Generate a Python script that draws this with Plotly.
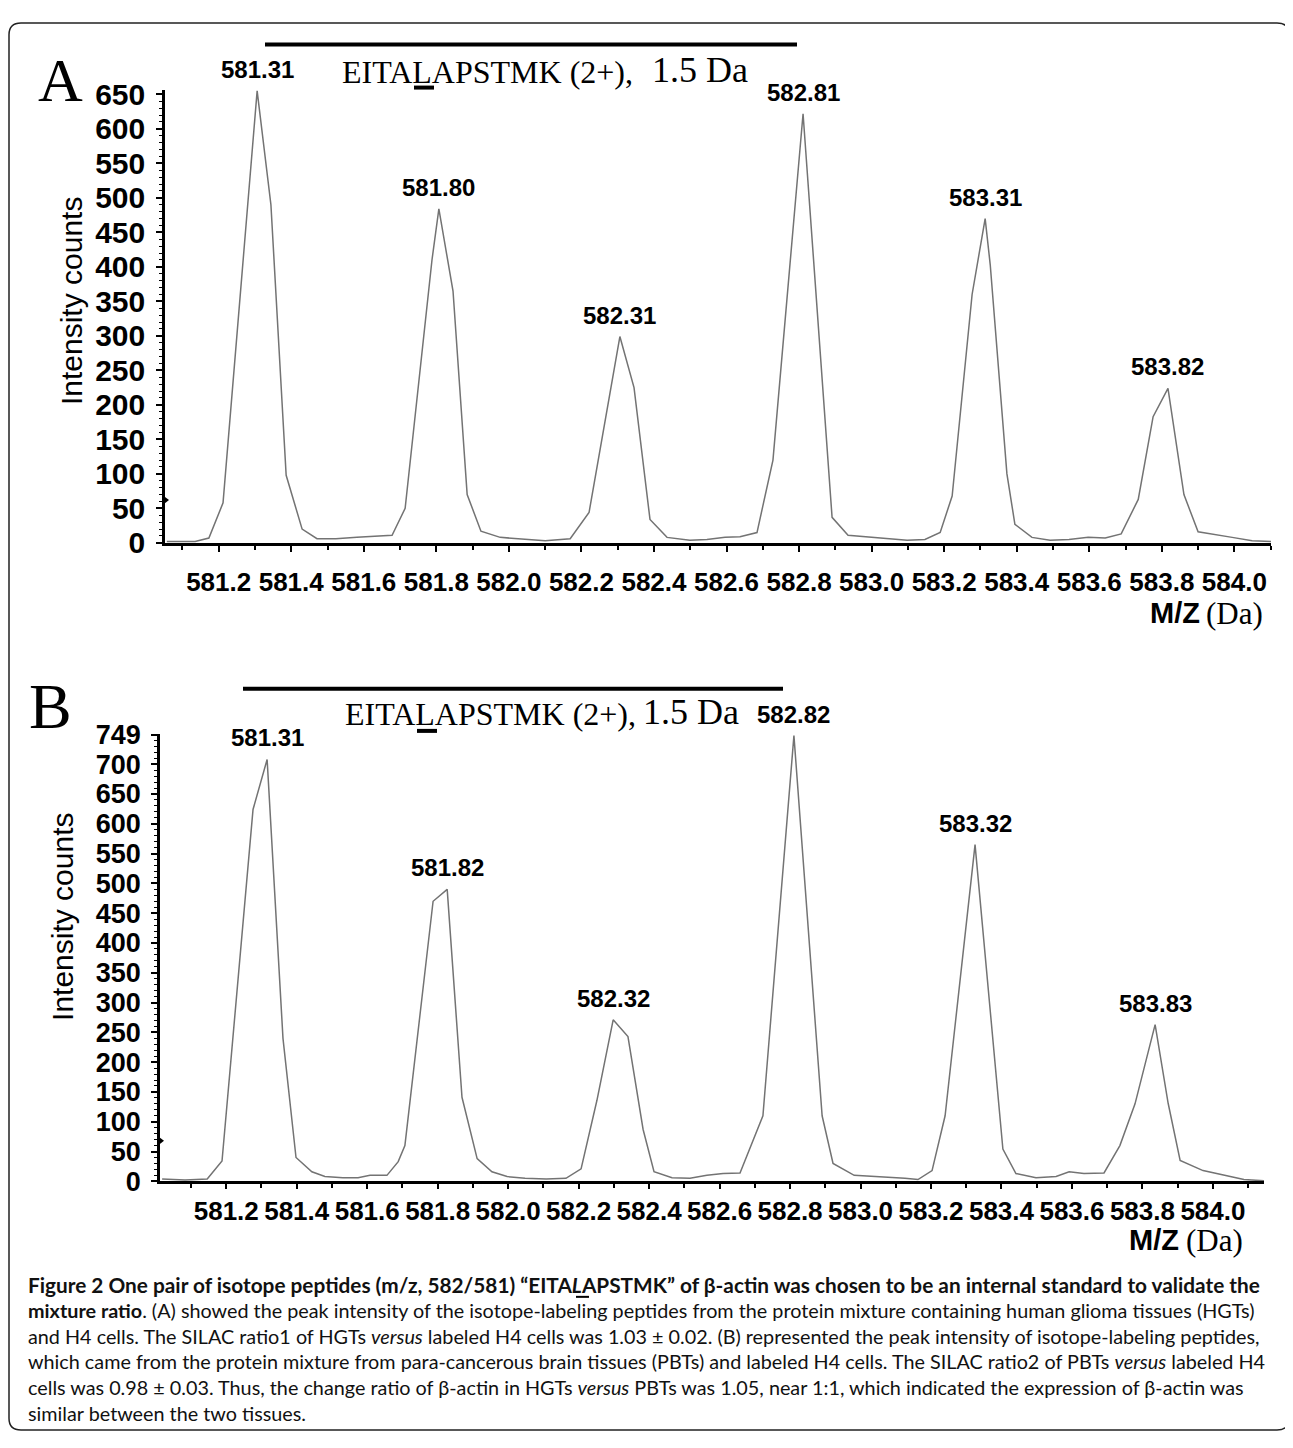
import plotly.graph_objects as go

# page is 1293x1448; the html body has an 8px default margin, so the figure is 8px smaller
PAGE_W, PAGE_H = 1293, 1448
OFF = 8
W, H = PAGE_W - OFF, PAGE_H - OFF

# ---------------- data ----------------
# Panel A: m/z and intensity vertices of the profile spectrum
mz_a = [581.057, 581.135, 581.173, 581.212, 581.306, 581.344, 581.386, 581.430, 581.471, 581.523,
        581.581, 581.631, 581.678, 581.714, 581.788, 581.807, 581.846, 581.885, 581.923, 581.976,
        582.033, 582.100, 582.169, 582.221, 582.306, 582.345, 582.389, 582.436, 582.499, 582.546,
        582.596, 582.637, 582.684, 582.728, 582.811, 582.891, 582.935, 582.987, 583.040, 583.098,
        583.147, 583.189, 583.222, 583.277, 583.313, 583.327, 583.373, 583.395, 583.442, 583.492,
        583.544, 583.597, 583.644, 583.688, 583.735, 583.776, 583.817, 583.861, 583.900, 583.952,
        583.994, 584.049, 584.101]
int_a = [2, 2, 7, 58, 655, 490, 98, 20, 6, 6,
         8, 10, 11, 50, 410, 484, 365, 70, 17, 8,
         6, 3, 6, 44, 299, 225, 34, 8, 4, 5,
         8, 9, 15, 120, 622, 37, 11, 9, 7, 4,
         5, 15, 68, 360, 470, 403, 100, 27, 8, 4,
         5, 8, 7, 13, 63, 183, 224, 70, 16, 11,
         8, 3, 2]
peaks_a = ["581.31", "581.80", "582.31", "582.81", "583.31", "583.82"]

# Panel B
mz_b = [581.018, 581.083, 581.146, 581.188, 581.276, 581.316, 581.361, 581.398, 581.443, 581.480,
        581.531, 581.574, 581.608, 581.656, 581.688, 581.707, 581.787, 581.827, 581.869, 581.912,
        581.954, 581.997, 582.048, 582.108, 582.164, 582.207, 582.252, 582.298, 582.340, 582.383,
        582.414, 582.465, 582.516, 582.564, 582.610, 582.658, 582.723, 582.811, 582.891, 582.922,
        582.982, 583.052, 583.126, 583.163, 583.203, 583.240, 583.325, 583.404, 583.441, 583.498,
        583.555, 583.592, 583.634, 583.691, 583.736, 583.779, 583.836, 583.873, 583.907, 583.972,
        584.014, 584.088, 584.145]
int_b = [4, 2, 4, 34, 624, 708, 240, 40, 16, 8,
         6, 6, 10, 10, 33, 60, 470, 490, 141, 38,
         16, 8, 5, 4, 5, 21, 136, 271, 243, 87,
         16, 6, 5, 10, 13, 14, 110, 748, 110, 30,
         10, 8, 5, 3, 18, 110, 565, 54, 13, 6,
         8, 16, 13, 14, 60, 130, 263, 131, 35, 18,
         13, 3, 1]
peaks_b = ["581.31", "581.82", "582.32", "582.82", "583.32", "583.83"]

yticks_a = list(range(0, 651, 50))
yticks_b = list(range(0, 701, 50)) + [749]
marker_level_a = 62
marker_level_b = 68

title_main = "EITALAPSTMK (2+),"
title_mass = "1.5 Da"

caption_lines = [
    "<b>Figure 2 One pair of isotope peptides (m/z, 582/581) \u201cEITA<i>L</i>APSTMK\u201d of \u03b2-actin was chosen to be an internal standard to validate the</b>",
    "<b>mixture ratio</b>. (A) showed the peak intensity of the isotope-labeling peptides from the protein mixture containing human glioma tissues (HGTs)",
    "and H4 cells. The SILAC ratio1 of HGTs <i>versus</i> labeled H4 cells was 1.03 \u00b1 0.02. (B) represented the peak intensity of isotope-labeling peptides,",
    "which came from the protein mixture from para-cancerous brain tissues (PBTs) and labeled H4 cells. The SILAC ratio2 of PBTs <i>versus</i> labeled H4",
    "cells was 0.98 \u00b1 0.03. Thus, the change ratio of \u03b2-actin in HGTs <i>versus</i> PBTs was 1.05, near 1:1, which indicated the expression of \u03b2-actin was",
    "similar between the two tissues.",
]


# ---------------- helpers (page pixels -> paper fractions) ----------------
def fx(p):
    return (p - OFF) / W


def fy(p):
    return 1 - (p - OFF) / H


SANS = "Liberation Sans, Arial, sans-serif"
SERIF = "Liberation Serif, Times New Roman, serif"
CAPTION_FONT = "Lato, Open Sans, sans-serif"
LINE_COLOR = "#737373"

fig = go.Figure()

fig.add_trace(go.Scatter(x=mz_a, y=int_a, mode="lines", xaxis="x", yaxis="y",
                         line=dict(color=LINE_COLOR, width=1.5), showlegend=False, hoverinfo="skip"))
fig.add_trace(go.Scatter(x=mz_b, y=int_b, mode="lines", xaxis="x2", yaxis="y2",
                         line=dict(color=LINE_COLOR, width=1.5), showlegend=False, hoverinfo="skip"))

range_a = [581.052, 584.101]
range_b = [581.012, 584.145]

# small arrow marks on the y axes
fig.add_trace(go.Scatter(x=[range_a[0]], y=[marker_level_a], mode="markers", xaxis="x", yaxis="y",
                         marker=dict(symbol="triangle-right", size=8, color="black"),
                         cliponaxis=False, showlegend=False, hoverinfo="skip"))
fig.add_trace(go.Scatter(x=[range_b[0]], y=[marker_level_b], mode="markers", xaxis="x2", yaxis="y2",
                         marker=dict(symbol="triangle-right", size=8, color="black"),
                         cliponaxis=False, showlegend=False, hoverinfo="skip"))


def xaxis_cfg(dom, rng, anchor, standoff, ticklen):
    return dict(domain=dom, range=rng, anchor=anchor, showline=True, linecolor="black", linewidth=2.5,
                ticks="outside", ticklen=ticklen, tickwidth=2, tickcolor="black",
                tickmode="linear", tick0=581.2, dtick=0.2, tickformat=".1f",
                tickfont=dict(family=SANS, size=26, color="black", weight="bold"),
                ticklabelstandoff=standoff,
                minor=dict(tick0=581.1, dtick=0.1, ticks="outside", ticklen=4, tickwidth=1.5,
                           tickcolor="black", showgrid=False),
                showgrid=False, zeroline=False, fixedrange=True)


def yaxis_cfg(dom, rng, anchor, vals, fsize):
    return dict(domain=dom, range=rng, anchor=anchor, showline=True, linecolor="black", linewidth=2.5,
                ticks="outside", ticklen=6, tickwidth=2, tickcolor="black",
                tickmode="array", tickvals=vals, ticktext=[str(v) for v in vals],
                tickfont=dict(family=SANS, size=fsize, color="black", weight="bold"),
                ticklabelstandoff=5,
                minor=dict(tick0=0, dtick=10, ticks="outside", ticklen=3, tickwidth=1,
                           tickcolor="black", showgrid=False),
                showgrid=False, zeroline=False, fixedrange=True)


fig.update_layout(
    width=W, height=H, margin=dict(l=0, r=0, t=0, b=0),
    paper_bgcolor="white", plot_bgcolor="white", showlegend=False,
    xaxis=xaxis_cfg([fx(165), fx(1271)], range_a, "y", 8, 6),
    yaxis=yaxis_cfg([fy(541), fy(78)], [0, 657], "x", yticks_a, 30),
    xaxis2=xaxis_cfg([fx(160), fx(1264)], range_b, "y2", 0, 5),
    yaxis2=yaxis_cfg([fy(1193), fy(736)], [0, 751], "x2", yticks_b, 27),
)

ann = []


def paper_text(text, px, py, size, family=SANS, xanchor="center", yanchor="middle", angle=0, color="black"):
    ann.append(dict(text=text, x=fx(px), y=fy(py), xref="paper", yref="paper", showarrow=False,
                    xanchor=xanchor, yanchor=yanchor, textangle=angle,
                    font=dict(family=family, size=size, color=color)))


# panel letters
paper_text("A", 60, 68, 62, SERIF)
paper_text("B", 50, 708, 64, SERIF)

# peptide titles
paper_text(title_main, 340, 60, 32, SERIF, xanchor="left")
paper_text(title_mass, 650, 58, 36, SERIF, xanchor="left")
paper_text(title_main, 343, 716, 32, SERIF, xanchor="left")
paper_text(title_mass, 641, 714, 36, SERIF, xanchor="left")

# y axis titles
paper_text("Intensity counts", 71, 294, 30, SANS, angle=-90)
paper_text("Intensity counts", 63, 923, 30, SANS, angle=-90)

# x axis titles
paper_text("<b>M/Z</b>", 1202, 613, 29, SANS, xanchor="right")
paper_text("(Da)", 1204, 613, 31, SERIF, xanchor="left")
paper_text("<b>M/Z</b>", 1181, 1253, 29, SANS, xanchor="right")
paper_text("(Da)", 1184, 1253, 31, SERIF, xanchor="left")


# peak labels placed at the local maximum of each isotope peak
def peak_labels(mz, inten, labels, xref, yref):
    for lab in labels:
        c = float(lab)
        idx = [i for i, m in enumerate(mz) if abs(m - c) < 0.08]
        best = max(idx, key=lambda i: inten[i])
        ann.append(dict(text="<b>%s</b>" % lab, x=mz[best], y=inten[best], xref=xref, yref=yref,
                        showarrow=False, xanchor="center", yanchor="bottom", yshift=6,
                        font=dict(family=SANS, size=24, color="black")))


peak_labels(mz_a, int_a, peaks_a, "x", "y")
peak_labels(mz_b, int_b, peaks_b, "x2", "y2")

# caption
cap_y = [1298, 1324, 1350.5, 1377, 1403.5, 1430]
cap_size = [20.8, 19.8, 19.8, 19.8, 19.8, 19.8]
for line, yy, sz in zip(caption_lines, cap_y, cap_size):
    paper_text(line, 26, yy, sz, CAPTION_FONT, xanchor="left", color="#111111")

fig.update_layout(annotations=ann)

# shapes: frame, title bars, underlines
x0, x1 = fx(9), fx(1289)
yt, yb = fy(10), fy(1447)
rx, ry = 12 / W, 12 / H
frame = (f"M {x0},{yb + ry} L {x0},{yt - ry} Q {x0},{yt} {x0 + rx},{yt} "
         f"L {x1 - rx},{yt} Q {x1},{yt} {x1},{yt - ry} L {x1},{yb + ry} "
         f"Q {x1},{yb} {x1 - rx},{yb} L {x0 + rx},{yb} Q {x0},{yb} {x0},{yb + ry} Z")


def hline(xa, xb, yy, w):
    return dict(type="line", x0=fx(xa), x1=fx(xb), y0=fy(yy), y1=fy(yy), xref="paper", yref="paper",
                line=dict(color="black", width=w))


shapes = [
    dict(type="path", path=frame, xref="paper", yref="paper", line=dict(color="#222222", width=1.5)),
    hline(265, 797, 32, 4),
    hline(243, 783, 690, 4),
    hline(414, 434, 76, 4),
    hline(417, 437, 733, 4),
    hline(576, 589, 1311, 2),
]
fig.update_layout(shapes=shapes)

fig.write_html("out.html")
